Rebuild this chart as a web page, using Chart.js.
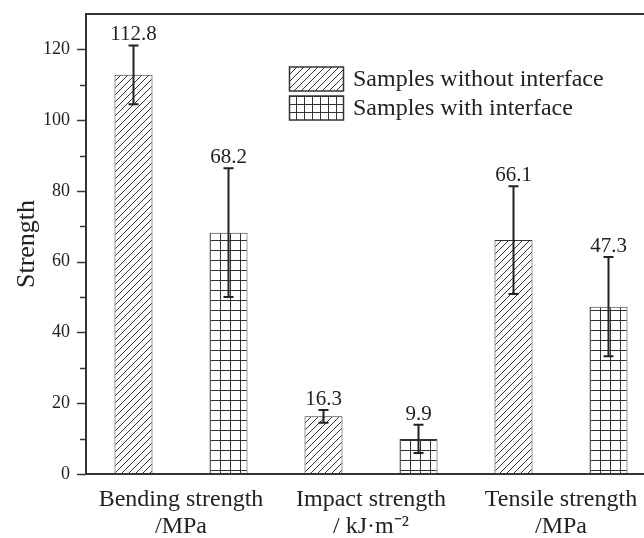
<!DOCTYPE html>
<html><head><meta charset="utf-8">
<script src="https://cdn.jsdelivr.net/npm/chart.js@4/dist/chart.umd.min.js"></script>
<style>html,body{margin:0;padding:0;overflow:hidden;background:#fff}</style>
</head><body>
<canvas id="c" width="660" height="538" style="display:block"></canvas>
<script>
const categories = [['Bending strength','/MPa'],['Impact strength','/ kJ·m⁻²'],['Tensile strength','/MPa']];
const seriesNames = ['Samples without interface','Samples with interface'];
const withoutValues = [112.8, 16.3, 66.1];
const withValues = [68.2, 9.9, 47.3];
const withoutErrors = [8.3, 1.8, 15.2];
const withErrors = [18.2, 4.0, 14.0];
const yTicks = [0,20,40,60,80,100,120];
const yMax = 130;

const FONT = "'Liberation Serif', 'Times New Roman', serif";
const INK = '#222';

function hatchPattern(){
  const s=7, c=document.createElement('canvas'); c.width=s; c.height=s;
  const g=c.getContext('2d'); g.fillStyle='#fff'; g.fillRect(0,0,s,s);
  g.strokeStyle='#333'; g.lineWidth=1;
  g.beginPath(); g.moveTo(-1,s+1); g.lineTo(s+1,-1); g.stroke();
  g.beginPath(); g.moveTo(-1,1); g.lineTo(1,-1); g.stroke();
  g.beginPath(); g.moveTo(s-1,s+1); g.lineTo(s+1,s-1); g.stroke();
  return g.createPattern(c,'repeat');
}
function gridPattern(s){
  const c=document.createElement('canvas'); c.width=s; c.height=s;
  const g=c.getContext('2d'); g.fillStyle='#fff'; g.fillRect(0,0,s,s);
  g.fillStyle='#333'; g.fillRect(0,0,s,1); g.fillRect(0,0,1,s);
  return g.createPattern(c,'repeat');
}
const hatch = hatchPattern();
const grid = gridPattern(10);
const legendFills = [hatch, gridPattern(8)];

const decor = {
  id:'decor',
  afterDatasetsDraw(chart){
    const ctx=chart.ctx, y=chart.scales.y;
    chart.data.datasets.forEach((ds,di)=>{
      const meta=chart.getDatasetMeta(di);
      meta.data.forEach((bar,i)=>{
        const v=ds.data[i], e=ds.errors[i];
        const yt=y.getPixelForValue(v+e), yb=y.getPixelForValue(v-e);
        ctx.save();
        ctx.strokeStyle=INK; ctx.lineWidth=2;
        ctx.beginPath();
        ctx.moveTo(bar.x,yt); ctx.lineTo(bar.x,yb);
        ctx.moveTo(bar.x-5,yt); ctx.lineTo(bar.x+5,yt);
        ctx.moveTo(bar.x-5,yb); ctx.lineTo(bar.x+5,yb);
        ctx.stroke();
        ctx.fillStyle=INK; ctx.font='21px '+FONT;
        ctx.textAlign='center'; ctx.textBaseline='alphabetic';
        ctx.fillText(v.toFixed(1), bar.x, yt-5);
        ctx.restore();
      });
    });
  },
  afterDraw(chart){
    const ctx=chart.ctx, a=chart.chartArea, y=chart.scales.y;
    ctx.save();
    ctx.strokeStyle='#333'; ctx.lineWidth=2;
    ctx.beginPath(); ctx.moveTo(a.left-1,a.top); ctx.lineTo(a.right+2,a.top); ctx.stroke();
    ctx.lineWidth=1.5;
    for(let v=0; v<yMax; v+=10){
      const p=Math.round(y.getPixelForValue(v))+0.5;
      const len = yTicks.includes(v) ? 8 : 5;
      ctx.beginPath(); ctx.moveTo(a.left-len-1,p); ctx.lineTo(a.left,p); ctx.stroke();
    }
    const rows=[79,108];
    chart.data.datasets.forEach((ds,i)=>{
      const cy=rows[i];
      ctx.fillStyle=legendFills[i];
      ctx.fillRect(289,cy-12,55,24);
      ctx.strokeStyle='#333'; ctx.lineWidth=1.5;
      ctx.strokeRect(289.5,cy-12,54,24);
      ctx.fillStyle=INK; ctx.font='24px '+FONT;
      ctx.textAlign='left'; ctx.textBaseline='middle';
      ctx.fillText(ds.label, 353, cy+1);
    });
    ctx.restore();
  }
};

new Chart(document.getElementById('c').getContext('2d'), {
  type:'bar',
  data:{
    labels:categories,
    datasets:[
      {label:seriesNames[0], data:withoutValues, errors:withoutErrors, backgroundColor:hatch,
       borderColor:'#333', borderWidth:1, borderSkipped:false, barPercentage:0.4, categoryPercentage:1},
      {label:seriesNames[1], data:withValues, errors:withErrors, backgroundColor:grid,
       borderColor:'#333', borderWidth:1, borderSkipped:false, barPercentage:0.4, categoryPercentage:1}
    ]
  },
  options:{
    responsive:false, animation:false,
    layout:{padding:{top:14,right:4,left:0,bottom:0}},
    plugins:{legend:{display:false}, tooltip:{enabled:false}},
    scales:{
      x:{
        grid:{display:false, drawTicks:false},
        border:{display:true, color:'#333', width:2},
        ticks:{font:{family:FONT,size:24,lineHeight:1.125}, color:INK, padding:12, maxRotation:0, autoSkip:false},
        afterFit(s){ s.height=64; s.paddingLeft=0; s.paddingRight=0; }
      },
      y:{
        min:0, max:yMax,
        grid:{display:false, drawTicks:false},
        border:{display:true, color:'#333', width:2},
        ticks:{stepSize:10, autoSkip:false, callback:(v)=> yTicks.includes(v) ? String(v) : '',
               font:{family:FONT,size:18}, color:INK, padding:16},
        title:{display:true, text:'Strength', font:{family:FONT,size:26}, color:INK, padding:{top:12,bottom:0}},
        afterFit(s){ s.width=86; s.paddingTop=0; s.paddingBottom=0; }
      }
    }
  },
  plugins:[decor]
});
</script>
</body></html>
